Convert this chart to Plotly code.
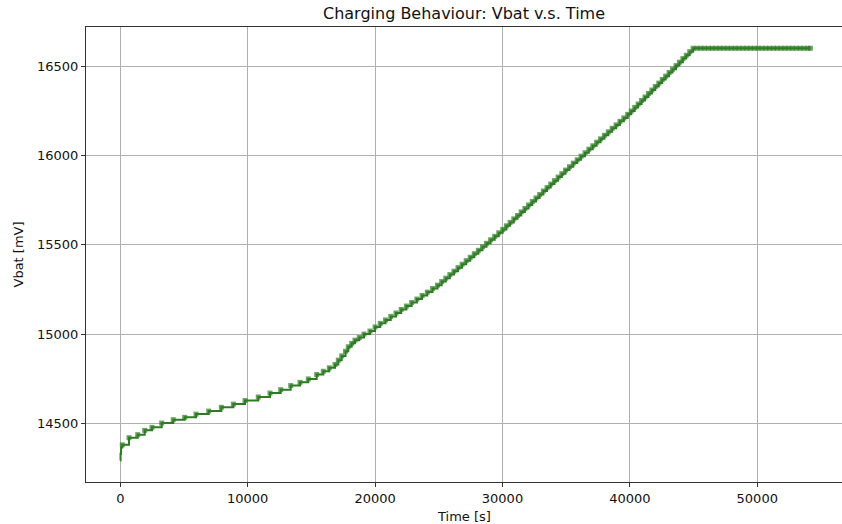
import plotly.graph_objects as go

# ---- data ----
time_s = [
    0, 20, 60, 157, 683, 1366, 1916, 2488, 3250, 4158, 5056, 5942, 6939, 7933, 8876, 9792,
    10833, 11751, 12591, 13376, 14106, 14758, 15417, 15936, 16407, 16855, 17113, 17380,
    17680, 17898, 18165, 18424, 18762, 19130, 19601,
    20000, 20410, 20820, 21230, 21640, 22050, 22460, 22870, 23280, 23690, 24100, 24510, 24900,
    25230, 25550, 25870, 26190, 26510, 26830, 27150, 27470, 27790, 28110, 28430, 28750, 29070,
    29390, 29710,
    30020, 30310, 30600, 30890, 31180, 31470, 31760, 32050, 32340, 32630, 32920, 33210, 33500,
    33790, 34080, 34370, 34660, 34950,
    35260, 35560, 35870, 36170, 36480, 36780, 37090, 37390, 37700, 38000, 38310, 38610, 38920,
    39220, 39530, 39830,
    40110, 40380, 40650, 40920, 41190, 41460, 41730, 42000, 42270, 42540, 42810, 43080, 43350,
    43620, 43890, 44160, 44430, 44700, 44970,
    45270, 45570, 45870, 46170, 46470, 46770, 47070, 47370, 47670, 47970, 48270, 48570, 48870,
    49170, 49470, 49770, 50070, 50370, 50670, 50970, 51270, 51570, 51870, 52170, 52470, 52770,
    53070, 53370, 53670, 53970, 54170,
]
vbat_mv = [
    14292, 14330, 14365, 14380, 14420, 14437, 14461, 14478, 14502, 14521, 14534, 14552, 14569,
    14590, 14608, 14628,
    14648, 14670, 14689, 14712, 14730, 14749, 14774, 14792, 14811, 14830, 14854, 14878,
    14904, 14929, 14948, 14966, 14981, 15000, 15017,
    15040, 15060, 15079, 15099, 15118, 15138, 15157, 15177, 15196, 15216, 15235, 15255, 15274,
    15294, 15313, 15333, 15352, 15372, 15391, 15411, 15430, 15450, 15469, 15489, 15508, 15528,
    15547, 15567,
    15586, 15606, 15625, 15645, 15664, 15684, 15703, 15723, 15742, 15762, 15781, 15801, 15820,
    15840, 15859, 15879, 15898, 15918,
    15937, 15957, 15976, 15996, 16015, 16035, 16054, 16074, 16093, 16113, 16132, 16152, 16171,
    16191, 16210, 16230,
    16249, 16269, 16288, 16308, 16327, 16347, 16366, 16386, 16405, 16425, 16444, 16464, 16483,
    16503, 16522, 16542, 16561, 16581, 16600,
    16600, 16600, 16600, 16600, 16600, 16600, 16600, 16600, 16600, 16600, 16600, 16600, 16600,
    16600, 16600, 16600, 16600, 16600, 16600, 16600, 16600, 16600, 16600, 16600, 16600, 16600,
    16600, 16600, 16600, 16600, 16600,
]
x_ticks = [0, 10000, 20000, 30000, 40000, 50000]
x_tick_labels = ["0", "10000", "20000", "30000", "40000", "50000"]
y_ticks = [14500, 15000, 15500, 16000, 16500]
y_tick_labels = ["14500", "15000", "15500", "16000", "16500"]

title = "Charging Behaviour: Vbat v.s. Time"
x_label = "Time [s]"
y_label = "Vbat [mV]"

# ---- style ----
GREEN = "#2c7c22"
FONT = "DejaVu Sans"
marker_sizes = [0 if i < 3 else 5 for i in range(len(time_s))]

fig = go.Figure(
    go.Scatter(
        x=time_s,
        y=vbat_mv,
        mode="lines+markers",
        line=dict(shape="hv", color=GREEN, width=2),
        marker=dict(symbol="square", size=marker_sizes, color=GREEN, line=dict(width=0)),
        showlegend=False,
        hoverinfo="skip",
    )
)

axis_common = dict(
    showgrid=True,
    gridcolor="#b0b0b0",
    gridwidth=1,
    showline=True,
    linecolor="#333333",
    linewidth=1,
    ticks="outside",
    ticklen=4,
    tickwidth=1,
    tickcolor="#333333",
    tickfont=dict(family=FONT, size=13, color="#111111"),
    zeroline=False,
)

fig.update_layout(
    width=842,
    height=524,
    margin=dict(l=86, r=0, t=27, b=42),
    paper_bgcolor="white",
    plot_bgcolor="white",
    title=dict(
        text=title,
        x=0.5,
        xref="paper",
        xanchor="center",
        y=1 - 13 / 524,
        yref="container",
        yanchor="middle",
        font=dict(family=FONT, size=16, color="#111111"),
    ),
    xaxis=dict(
        range=[-2692, 56653],
        tickvals=x_ticks,
        ticktext=x_tick_labels,
        mirror=True,
        **axis_common,
    ),
    yaxis=dict(
        range=[14172, 16719],
        tickvals=y_ticks,
        ticktext=y_tick_labels,
        mirror=False,
        **axis_common,
    ),
    annotations=[
        dict(
            text=x_label, xref="paper", yref="paper", x=0.5, y=(482 - 516) / 455,
            xanchor="center", yanchor="middle", showarrow=False,
            font=dict(family=FONT, size=13, color="#111111"),
        ),
        dict(
            text=y_label, xref="paper", yref="paper", x=(18 - 86) / 756, y=0.5,
            xanchor="center", yanchor="middle", textangle=-90, showarrow=False,
            font=dict(family=FONT, size=13, color="#111111"),
        ),
    ],
)

fig.write_html(
    "out.html",
    config={"displayModeBar": False},
    post_script="document.body.style.margin='0';document.body.style.overflow='hidden';",
)
